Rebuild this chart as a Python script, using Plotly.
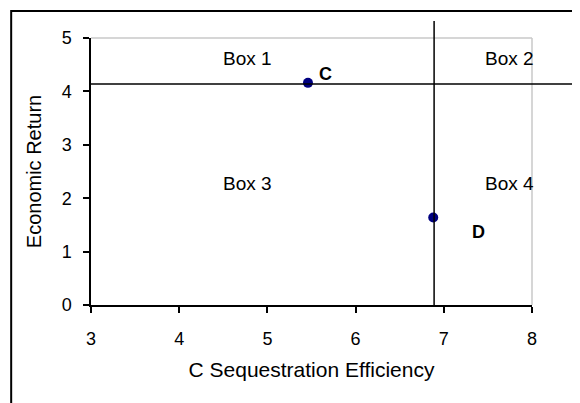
import plotly.graph_objects as go

# ---- data ----
point_names = ["C", "D"]
point_x = [5.46, 6.88]
point_y = [4.16, 1.64]
label_dx = [18, 45]     # label pixel offsets
label_dy = [9, -15]

threshold_x = 6.89
threshold_y = 4.14

box_names = ["Box 1", "Box 2", "Box 3", "Box 4"]
box_x = [4.77, 7.75, 4.77, 7.75]
box_y = [4.62, 4.62, 2.28, 2.28]

x_ticks = [3, 4, 5, 6, 7, 8]
y_ticks = [0, 1, 2, 3, 4, 5]

FONT = "Liberation Sans"

fig = go.Figure()
fig.add_trace(go.Scatter(
    x=point_x, y=point_y, mode="markers",
    marker=dict(color="#000080", size=10),
    hoverinfo="skip", showlegend=False, cliponaxis=False,
))

annotations = []
for n, x, y, dx, dy in zip(point_names, point_x, point_y, label_dx, label_dy):
    annotations.append(dict(x=x, y=y, xref="x", yref="y", text="<b>%s</b>" % n,
                            showarrow=False, xshift=dx, yshift=dy,
                            font=dict(family=FONT, size=18, color="black")))
for n, x, y in zip(box_names, box_x, box_y):
    annotations.append(dict(x=x, y=y, xref="x", yref="y", text=n, showarrow=False,
                            font=dict(family=FONT, size=19, color="black")))

shapes = [
    # outer frame
    dict(type="rect", xref="paper", yref="paper", x0=-0.181, x1=1.3, y0=-0.6, y1=1.101,
         line=dict(color="black", width=2), layer="below"),
    # gray plot border top/right
    dict(type="line", xref="paper", yref="paper", x0=0, x1=1, y0=1, y1=1,
         line=dict(color="#c8c8c8", width=1.5)),
    dict(type="line", xref="paper", yref="paper", x0=1, x1=1, y0=0, y1=1,
         line=dict(color="#c8c8c8", width=1.5)),
    # threshold lines
    dict(type="line", xref="paper", yref="y", x0=0, x1=1.3, y0=threshold_y, y1=threshold_y,
         line=dict(color="black", width=1.5)),
    dict(type="line", xref="x", yref="paper", x0=threshold_x, x1=threshold_x, y0=0, y1=1.064,
         line=dict(color="black", width=1.5)),
]

fig.update_layout(
    width=572, height=395,
    margin=dict(l=83, r=48, t=30, b=98),
    paper_bgcolor="white", plot_bgcolor="white",
    font=dict(family=FONT, color="black", size=18),
    annotations=annotations, shapes=shapes,
    xaxis=dict(range=[3, 8], tickmode="array", tickvals=x_ticks,
               ticktext=[str(v) for v in x_ticks],
               showgrid=False, zeroline=False,
               showline=True, linecolor="black", linewidth=1.5,
               ticks="outside", ticklen=6, tickwidth=1.5, tickcolor="black",
               ticklabelstandoff=11,
               title=dict(text="C Sequestration Efficiency", standoff=14,
                          font=dict(family=FONT, size=21))),
    yaxis=dict(range=[0, 5], tickmode="array", tickvals=y_ticks,
               ticktext=[str(v) for v in y_ticks],
               showgrid=False, zeroline=False,
               showline=True, linecolor="black", linewidth=1.5,
               ticks="outside", ticklen=6, tickwidth=1.5, tickcolor="black",
               ticklabelstandoff=8,
               title=dict(text="Economic Return", standoff=15,
                          font=dict(family=FONT, size=20))),
)
fig.update_xaxes(tickfont=dict(family=FONT, size=18, color="black"))
fig.update_yaxes(tickfont=dict(family=FONT, size=18, color="black"))

fig.write_html("out.html")
